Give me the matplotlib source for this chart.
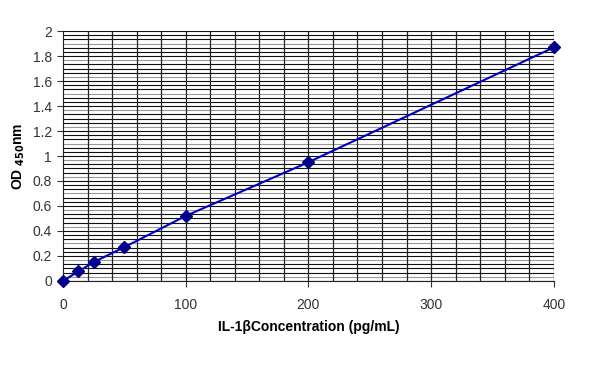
import numpy as np
import matplotlib.pyplot as plt

plt.rcParams['font.family'] = ['Liberation Sans', 'DejaVu Sans']

# standard curve points
conc = [0, 12.5, 25, 50, 100, 200, 400]
od = [0.0, 0.075, 0.15, 0.27, 0.52, 0.95, 1.87]

x_ticks = [0, 100, 200, 300, 400]
y_ticks = [0, 0.2, 0.4, 0.6, 0.8, 1, 1.2, 1.4, 1.6, 1.8, 2]
y_labels = ['0', '0.2', '0.4', '0.6', '0.8', '1', '1.2', '1.4', '1.6', '1.8', '2']

fig = plt.figure(figsize=(6, 3.71), dpi=100)
ax = fig.add_axes([0.105, 0.243, 0.818, 0.673])

# dense grid like the scanned background
for i, yv in enumerate(np.arange(0, 2.0001, 0.2 / 6)):
    col = '#999999' if i % 4 == 1 else '#111111'
    ax.axhline(yv, color=col, lw=0.8, zorder=1)
for xv in range(20, 401, 20):
    ax.axvline(xv, color='#222222', lw=0.9, zorder=1)

ax.plot(conc, od, color='#0000C0', lw=1.5, marker='D', markersize=6,
        markerfacecolor='#00008B', markeredgecolor='#00008B', zorder=3, clip_on=False)

ax.set_xlim(0, 400)
ax.set_ylim(0, 2)
ax.set_xticks(x_ticks)
ax.set_yticks(y_ticks)
ax.set_yticklabels(y_labels)
ax.tick_params(direction='out', length=4, width=0.8, colors='#333333', labelsize=10, pad=4)
ax.tick_params(axis='x', pad=8)

for s in ['top', 'right']:
    ax.spines[s].set_visible(False)
ax.spines['left'].set_color('#222222')
ax.spines['bottom'].set_color('#222222')

ax.set_xlabel('IL-1\u03b2Concentration (pg/mL)', fontsize=10, fontweight='bold', labelpad=6)
ax.set_ylabel('OD $_{\\mathbf{450}}$nm', fontsize=10, fontweight='bold', labelpad=4)

fig.savefig('out.png', dpi=100)
